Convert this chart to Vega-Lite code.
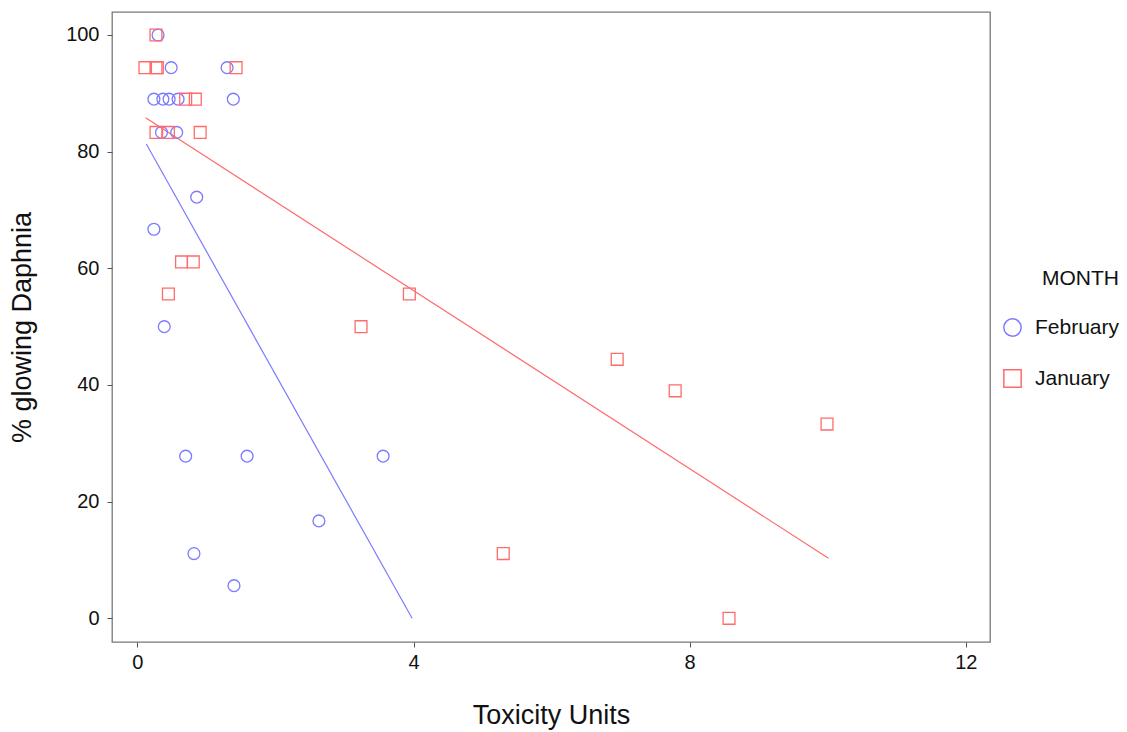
{
  "$schema": "https://vega.github.io/schema/vega-lite/v6.json",
  "width": 878,
  "height": 630,
  "autosize": "none",
  "padding": {"left": 112, "top": 12, "right": 137, "bottom": 90},
  "background": "white",
  "config": {
    "font": "Liberation Sans",
    "view": {"stroke": "#777777", "strokeWidth": 1.3},
    "axis": {
      "grid": false,
      "domain": false,
      "tickColor": "#555555",
      "tickSize": 5,
      "labelFontSize": 20,
      "labelColor": "#111111",
      "titleFontSize": 27,
      "titleFontWeight": "normal",
      "titleColor": "#111111"
    }
  },
  "datasets": {
    "points": [
      {"month": "February", "tu": 0.3, "pct": 100},
      {"month": "February", "tu": 0.49, "pct": 94.4},
      {"month": "February", "tu": 1.3, "pct": 94.4},
      {"month": "February", "tu": 0.24, "pct": 89},
      {"month": "February", "tu": 0.37, "pct": 89},
      {"month": "February", "tu": 0.46, "pct": 89},
      {"month": "February", "tu": 0.59, "pct": 89},
      {"month": "February", "tu": 1.39, "pct": 89},
      {"month": "February", "tu": 0.35, "pct": 83.3},
      {"month": "February", "tu": 0.57, "pct": 83.3},
      {"month": "February", "tu": 0.86, "pct": 72.2},
      {"month": "February", "tu": 0.24, "pct": 66.7},
      {"month": "February", "tu": 0.39, "pct": 50},
      {"month": "February", "tu": 0.7, "pct": 27.8},
      {"month": "February", "tu": 1.59, "pct": 27.8},
      {"month": "February", "tu": 3.56, "pct": 27.8},
      {"month": "February", "tu": 2.63, "pct": 16.7},
      {"month": "February", "tu": 0.82, "pct": 11.1},
      {"month": "February", "tu": 1.4, "pct": 5.6},
      {"month": "January", "tu": 0.27, "pct": 100},
      {"month": "January", "tu": 0.11, "pct": 94.4},
      {"month": "January", "tu": 0.27, "pct": 94.4},
      {"month": "January", "tu": 0.29, "pct": 94.4},
      {"month": "January", "tu": 1.43, "pct": 94.4},
      {"month": "January", "tu": 0.7, "pct": 89},
      {"month": "January", "tu": 0.84, "pct": 89},
      {"month": "January", "tu": 0.27, "pct": 83.3},
      {"month": "January", "tu": 0.45, "pct": 83.3},
      {"month": "January", "tu": 0.91, "pct": 83.3},
      {"month": "January", "tu": 0.64, "pct": 61.1},
      {"month": "January", "tu": 0.81, "pct": 61.1},
      {"month": "January", "tu": 0.45, "pct": 55.6},
      {"month": "January", "tu": 3.94, "pct": 55.6},
      {"month": "January", "tu": 3.24, "pct": 50},
      {"month": "January", "tu": 6.95, "pct": 44.4},
      {"month": "January", "tu": 7.79, "pct": 39},
      {"month": "January", "tu": 9.99, "pct": 33.3},
      {"month": "January", "tu": 5.3, "pct": 11.1},
      {"month": "January", "tu": 8.57, "pct": 0}
    ],
    "lineFeb": [
      {"month": "February", "tu": 0.13, "pct": 81.3},
      {"month": "February", "tu": 3.98, "pct": 0}
    ],
    "lineJan": [
      {"month": "January", "tu": 0.12, "pct": 85.8},
      {"month": "January", "tu": 10.01, "pct": 10.3}
    ]
  },
  "layer": [
    {
      "data": {"name": "lineFeb"},
      "mark": {"type": "line", "strokeWidth": 1.2, "color": "#7b7bff"},
      "encoding": {
        "x": {"field": "tu", "type": "quantitative"},
        "y": {"field": "pct", "type": "quantitative"}
      }
    },
    {
      "data": {"name": "lineJan"},
      "mark": {"type": "line", "strokeWidth": 1.2, "color": "#ff6b6b"},
      "encoding": {
        "x": {"field": "tu", "type": "quantitative"},
        "y": {"field": "pct", "type": "quantitative"}
      }
    },
    {
      "data": {"name": "points"},
      "mark": {"type": "point", "filled": false, "size": 140, "strokeWidth": 1.3, "opacity": 1},
      "encoding": {
        "x": {
          "field": "tu",
          "type": "quantitative",
          "title": "Toxicity Units",
          "scale": {"domain": [-0.367, 12.35], "nice": false, "zero": false},
          "axis": {"values": [0, 4, 8, 12], "format": "d", "labelPadding": 5, "titlePadding": 30}
        },
        "y": {
          "field": "pct",
          "type": "quantitative",
          "title": "% glowing Daphnia",
          "scale": {"domain": [-4.06, 103.94], "nice": false, "zero": false},
          "axis": {"values": [0, 20, 40, 60, 80, 100], "format": "d", "labelPadding": 8, "titlePadding": 29}
        },
        "color": {
          "field": "month",
          "type": "nominal",
          "scale": {"domain": ["February", "January"], "range": ["#7b7bff", "#ff6b6b"]},
          "title": "MONTH",
          "legend": {
            "orient": "none",
            "legendX": 890,
            "legendY": 256,
            "titleFontSize": 21,
            "titleFontWeight": "normal",
            "titleColor": "#111111",
            "titleAnchor": "end",
            "titlePadding": 28,
            "labelFontSize": 21,
            "labelColor": "#111111",
            "labelOffset": 12,
            "rowPadding": 26,
            "symbolSize": 300,
            "symbolStrokeWidth": 1.5
          }
        },
        "shape": {
          "field": "month",
          "type": "nominal",
          "scale": {"domain": ["February", "January"], "range": ["circle", "square"]},
          "title": "MONTH"
        }
      }
    }
  ]
}
